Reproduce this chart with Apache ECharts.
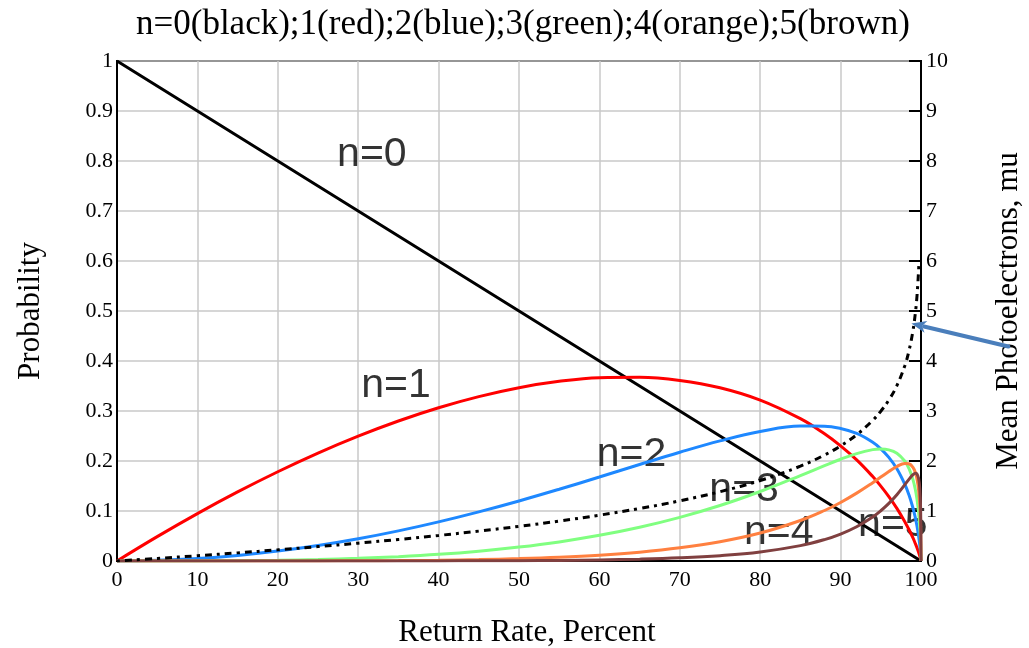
<!DOCTYPE html>
<html>
<head>
<meta charset="utf-8">
<script src="https://cdn.jsdelivr.net/npm/echarts@6/dist/echarts.min.js"></script>
<style>
  html, body { margin: 0; padding: 0; background: #fff; }
  #chart { width: 1029px; height: 648px; }
</style>
</head>
<body>
<div id="chart"></div>
<script>
// Return rate in percent (x positions of the sampled curves)
const returnRate = [0, 5, 10, 15, 20, 25, 30, 35, 40, 45, 50, 55, 60, 65, 70, 75, 80, 85, 88, 90,
  92, 94, 95, 96, 97, 98, 98.5, 99, 99.3, 99.5, 99.7, 99.85, 99.95, 100];

// Probability of n photoelectrons at each return rate
const probN0 = [1, 0.95, 0.9, 0.85, 0.8, 0.75, 0.7, 0.65, 0.6, 0.55, 0.5, 0.45, 0.4, 0.35, 0.3, 0.25, 0.2, 0.15, 0.12, 0.1,
  0.08, 0.06, 0.05, 0.04, 0.03, 0.02, 0.015, 0.01, 0.007, 0.005, 0.003, 0.0015, 0.0005, 0];
const probN1 = [0, 0.0487, 0.0948, 0.1381, 0.1785, 0.2158, 0.2497, 0.2800, 0.3065, 0.3288, 0.3466, 0.3593, 0.3665, 0.3674, 0.3612, 0.3466, 0.3219, 0.2846, 0.2544, 0.2303,
  0.2021, 0.1688, 0.1498, 0.1288, 0.1052, 0.0782, 0.0630, 0.0461, 0.0347, 0.0265, 0.0174, 0.0098, 0.0038, 0];
const probN2 = [0, 0.0013, 0.0050, 0.0112, 0.0199, 0.0310, 0.0445, 0.0603, 0.0783, 0.0983, 0.1201, 0.1435, 0.1679, 0.1929, 0.2174, 0.2402, 0.2590, 0.2699, 0.2697, 0.2651,
  0.2552, 0.2375, 0.2244, 0.2072, 0.1844, 0.1530, 0.1323, 0.1060, 0.0862, 0.0702, 0.0506, 0.0317, 0.0144, 0];
const probN3 = [0, 0, 0.0002, 0.0006, 0.0015, 0.0030, 0.0053, 0.0087, 0.0133, 0.0196, 0.0278, 0.0382, 0.0513, 0.0675, 0.0873, 0.1110, 0.1390, 0.1707, 0.1906, 0.2035,
  0.2148, 0.2227, 0.2240, 0.2223, 0.2156, 0.1996, 0.1852, 0.1628, 0.1425, 0.1239, 0.0980, 0.0687, 0.0366, 0];
const probN4 = [0, 0, 0, 0, 0.0001, 0.0002, 0.0005, 0.0009, 0.0017, 0.0029, 0.0048, 0.0076, 0.0117, 0.0177, 0.0263, 0.0385, 0.0559, 0.0810, 0.1010, 0.1171,
  0.1357, 0.1566, 0.1678, 0.1789, 0.1890, 0.1952, 0.1944, 0.1874, 0.1768, 0.1642, 0.1424, 0.1117, 0.0695, 0];
const probN5 = [0, 0, 0, 0, 0, 0, 0, 0.0001, 0.0002, 0.0004, 0.0007, 0.0012, 0.0022, 0.0037, 0.0063, 0.0107, 0.0180, 0.0307, 0.0428, 0.0539,
  0.0685, 0.0881, 0.1005, 0.1152, 0.1325, 0.1527, 0.1633, 0.1726, 0.1754, 0.1740, 0.1654, 0.1453, 0.1057, 0];

// Mean photoelectrons (right axis)
const muRate = [0, 5, 10, 15, 20, 25, 30, 35, 40, 45, 50, 55, 60, 65, 70, 75, 80, 85, 88, 90,
  92, 94, 95, 96, 97, 98, 98.5, 99, 99.3, 99.5, 99.7, 99.75];
const muValues = [0, 0.0513, 0.1054, 0.1625, 0.2231, 0.2877, 0.3567, 0.4308, 0.5108, 0.5978, 0.6931, 0.7985, 0.9163, 1.0498, 1.2040, 1.3863, 1.6094, 1.8971, 2.1203, 2.3026,
  2.5257, 2.8134, 2.9957, 3.2189, 3.5066, 3.9120, 4.1997, 4.6052, 4.9618, 5.2983, 5.8091, 5.9915];

// Curve labels: [return rate, probability, text]
const curveLabels = [
  [31.7, 0.812, 'n=0'],
  [34.7, 0.35, 'n=1'],
  [64.0, 0.212, 'n=2'],
  [78.0, 0.142, 'n=3'],
  [82.3, 0.056, 'n=4'],
  [96.5, 0.072, 'n=5']
];

const titleText = 'n=0(black);1(red);2(blue);3(green);4(orange);5(brown)';
const xName = 'Return Rate, Percent';
const yName = 'Probability';
const y2Name = 'Mean Photoelectrons, mu';

const curveColors = ['#000000', '#ff0000', '#1e88ff', '#80ff80', '#ff8040', '#804040'];
const probSeries = [probN0, probN1, probN2, probN3, probN4, probN5];

const serif = '"Liberation Serif", "Times New Roman", serif';
const sans = '"Liberation Sans", Arial, sans-serif';

function pairs(xsArr, ysArr) {
  return ysArr.map((v, i) => [xsArr[i], v]);
}

const chart = echarts.init(document.getElementById('chart'));

const series = probSeries.map((vals, i) => ({
  type: 'line',
  name: 'n=' + i,
  data: pairs(returnRate, vals),
  yAxisIndex: 0,
  showSymbol: false,
  smooth: i === 0 ? false : 0.4,
  lineStyle: { color: curveColors[i], width: 3 },
  z: 3,
  silent: true
}));

series.push({
  type: 'line',
  name: 'mu',
  data: pairs(muRate, muValues),
  yAxisIndex: 1,
  showSymbol: false,
  smooth: 0.4,
  lineStyle: { color: '#000', width: 3, type: [3, 5, 7, 5] },
  z: 4,
  silent: true
});

series.push({
  type: 'scatter',
  data: curveLabels.map(d => ({ value: [d[0], d[1]], name: d[2] })),
  symbolSize: 0,
  z: 1,
  silent: true,
  label: {
    show: true,
    position: 'inside',
    formatter: p => p.name,
    color: '#000',
    fontFamily: sans,
    fontSize: 41
  }
});

chart.setOption({
  animation: false,
  backgroundColor: '#fff',
  title: {
    text: titleText,
    left: 131,
    top: 2,
    textStyle: { fontFamily: serif, fontWeight: 'normal', fontSize: 35, color: '#000' }
  },
  grid: {
    left: 117, right: 108, top: 61, bottom: 87,
    outerBoundsMode: 'none',
    containLabel: false,
    show: true, borderColor: '#000', borderWidth: 2, backgroundColor: 'transparent'
  },
  xAxis: {
    type: 'value',
    min: 0, max: 100, interval: 10,
    name: xName,
    nameLocation: 'middle',
    nameGap: 56,
    nameTextStyle: { fontFamily: serif, fontSize: 31, color: '#000', padding: [0, 0, 0, 16] },
    axisLine: { show: true, lineStyle: { color: '#000', width: 2 } },
    axisTick: { show: false },
    axisLabel: { fontFamily: serif, fontSize: 22, color: '#000', margin: 8 },
    splitLine: { show: true, lineStyle: { color: '#c8c8c8', width: 1.5 } }
  },
  yAxis: [
    {
      type: 'value',
      min: 0, max: 1, interval: 0.1,
      name: yName,
      nameLocation: 'middle',
      nameRotate: 90,
      nameGap: 71,
      nameTextStyle: { fontFamily: serif, fontSize: 31, color: '#000' },
      axisLine: { show: true, lineStyle: { color: '#000', width: 2 } },
      axisTick: { show: false },
      axisLabel: { fontFamily: serif, fontSize: 22, color: '#000', margin: 4 },
      splitLine: { show: true, lineStyle: { color: '#c8c8c8', width: 1.5 } }
    },
    {
      type: 'value',
      position: 'right',
      min: 0, max: 10, interval: 1,
      name: y2Name,
      nameLocation: 'middle',
      nameRotate: 90,
      nameGap: 72,
      nameTextStyle: { fontFamily: serif, fontSize: 31, color: '#000' },
      axisLine: { show: true, lineStyle: { color: '#000', width: 2 } },
      axisTick: { show: true, inside: true, length: 12, lineStyle: { color: '#000', width: 2 } },
      axisLabel: { fontFamily: serif, fontSize: 22, color: '#000', margin: 5 },
      splitLine: { show: false }
    }
  ],
  series: series
});

// Pointer arrow aimed at the mean-photoelectron curve near the right axis
const tip = chart.convertToPixel({ xAxisIndex: 0, yAxisIndex: 1 }, [98.8, 4.75]);
const tail = [tip[0] + 97, tip[1] + 23];
const dx = tip[0] - tail[0], dy = tip[1] - tail[1];
const len = Math.sqrt(dx * dx + dy * dy);
const ux = dx / len, uy = dy / len;
const headLen = 15, headHalf = 6;
const base = [tip[0] - ux * headLen, tip[1] - uy * headLen];
const arrowBlue = '#4a7ebb';

chart.setOption({
  graphic: [
    {
      type: 'line',
      shape: { x1: tail[0], y1: tail[1], x2: base[0] + ux * 2, y2: base[1] + uy * 2 },
      style: { stroke: arrowBlue, lineWidth: 4, lineCap: 'round' },
      z: 10
    },
    {
      type: 'polygon',
      shape: {
        points: [
          tip,
          [base[0] - uy * headHalf, base[1] + ux * headHalf],
          [base[0] + ux * 4, base[1] + uy * 4],
          [base[0] + uy * headHalf, base[1] - ux * headHalf]
        ]
      },
      style: { fill: arrowBlue },
      z: 10
    }
  ]
});
</script>
</body>
</html>
